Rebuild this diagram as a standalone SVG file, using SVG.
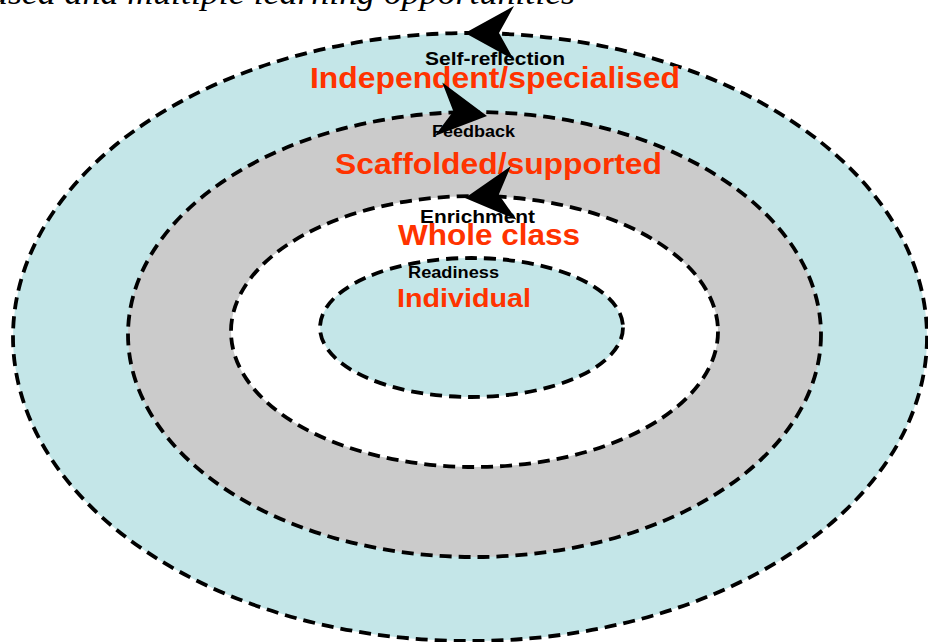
<svg xmlns="http://www.w3.org/2000/svg" xmlns:xlink="http://www.w3.org/1999/xlink" width="928" height="642" viewBox="0 0 928 642">
  <style>
    .ring { stroke: #000; stroke-width: 3.8; stroke-dasharray: 12 7; }
    .blue { fill: #C4E6E8; }
    .grey { fill: #CBCBCB; }
    .white { fill: #FFFFFF; }
    .lbl { font-family: "Liberation Sans", Arial, sans-serif; font-weight: bold; fill: #000; }
    .lvl { font-family: "Liberation Sans", Arial, sans-serif; font-weight: bold; fill: #FF3300; }
    .title { font-family: "Liberation Serif", "Times New Roman", serif; font-style: italic; fill: #000; }
  </style>
  <defs>
    <!-- swept arrowhead, tip at origin, pointing along +x -->
    <path id="head" d="M0,0 L-49,-27 L-34,0 L-49,27 Z" fill="#000"/>
  </defs>

  <text class="title" x="-10" y="4" font-size="33" textLength="585" lengthAdjust="spacingAndGlyphs">ased and multiple learning opportunities</text>

  <g id="outer">
    <ellipse class="ring blue" cx="470" cy="337" rx="457" ry="304"/>
  </g>
  <g id="scaffold">
    <ellipse class="ring grey" cx="474.5" cy="334.5" rx="346.5" ry="222.5"/>
  </g>
  <g id="whole">
    <ellipse class="ring white" cx="474.5" cy="331.5" rx="243.5" ry="135.5"/>
  </g>
  <g id="individual">
    <ellipse class="ring blue" cx="471.5" cy="327.5" rx="151.5" ry="69.5"/>
  </g>

  <g id="labels">
    <text class="lbl" x="425" y="65" font-size="18" textLength="140" lengthAdjust="spacingAndGlyphs">Self-reflection</text>
    <text class="lvl" x="310" y="88" font-size="29" textLength="370" lengthAdjust="spacingAndGlyphs">Independent/specialised</text>
    <text class="lbl" x="432" y="137" font-size="16" textLength="83" lengthAdjust="spacingAndGlyphs">Feedback</text>
    <text class="lvl" x="335" y="174" font-size="29" textLength="327" lengthAdjust="spacingAndGlyphs">Scaffolded/supported</text>
    <text class="lbl" x="420" y="223" font-size="18" textLength="115" lengthAdjust="spacingAndGlyphs">Enrichment</text>
    <text class="lvl" x="398" y="245" font-size="29" textLength="182" lengthAdjust="spacingAndGlyphs">Whole class</text>
    <text class="lbl" x="408" y="278" font-size="16" textLength="91" lengthAdjust="spacingAndGlyphs">Readiness</text>
    <text class="lvl" x="397" y="307" font-size="26" textLength="134" lengthAdjust="spacingAndGlyphs">Individual</text>
  </g>

  <g id="connectors">
    <use xlink:href="#head" transform="translate(465,33) rotate(180)"/>
    <use xlink:href="#head" transform="translate(487,116) rotate(8)"/>
    <use xlink:href="#head" transform="translate(465,198) rotate(174)"/>
  </g>
</svg>
